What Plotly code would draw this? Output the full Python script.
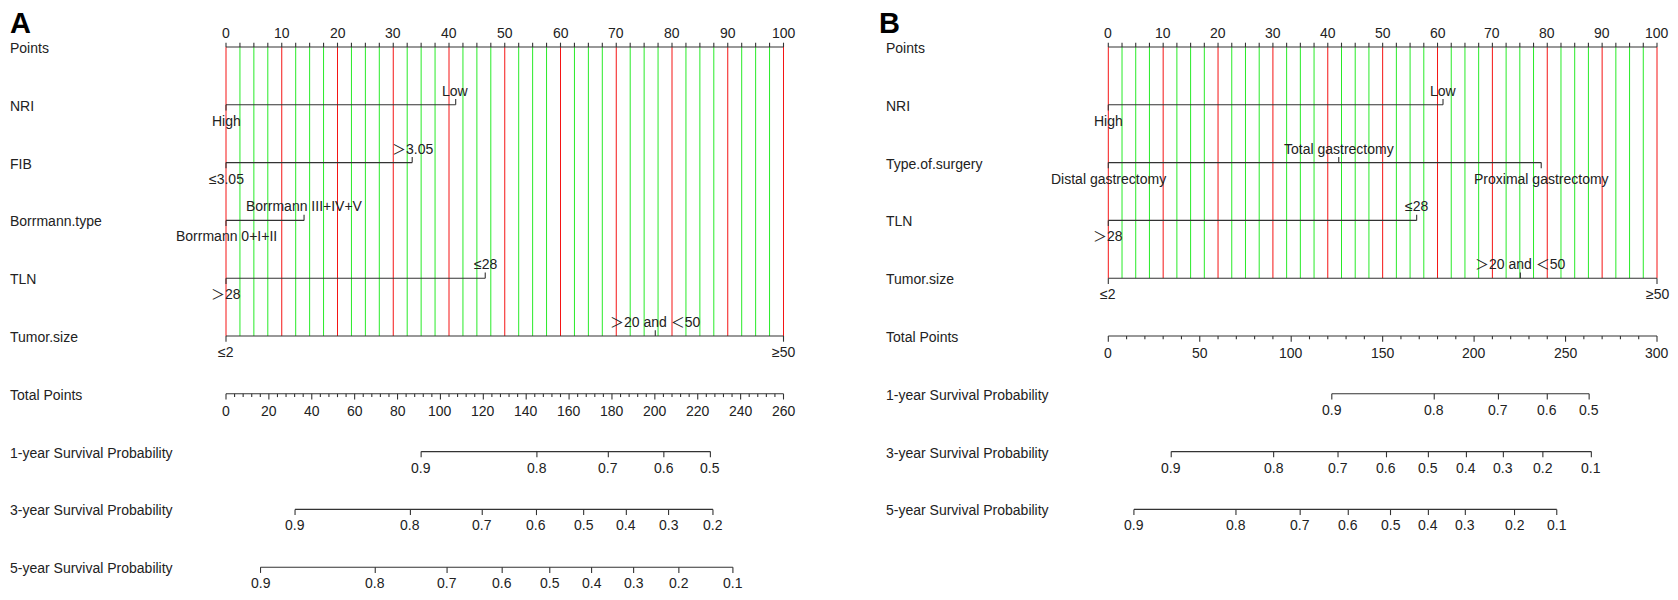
import plotly.graph_objects as go

# ---------------- panel A ----------------
a_names = ["Points", "NRI", "FIB", "Borrmann.type", "TLN", "Tumor.size",
           "Total Points", "1-year Survival Probability",
           "3-year Survival Probability", "5-year Survival Probability"]
a_nri_levels = ["High", "Low"]
a_nri_points = [0, 41.2]
a_fib_levels = ["≤3.05", "＞3.05"]
a_fib_points = [0, 33.4]
a_borr_levels = ["Borrmann 0+I+II", "Borrmann III+IV+V"]
a_borr_points = [0, 14.0]
a_tln_levels = ["＞28", "≤28"]
a_tln_points = [0, 46.5]
a_tumor_levels = ["≤2", "＞20 and ＜50", "≥50"]
a_tumor_points = [0, 77.0, 100]
a_total_max, a_total_major, a_total_minor = 260, 20, 4
a_surv1_labels = ["0.9", "0.8", "0.7", "0.6", "0.5"]
a_surv1_total = [91.0, 145.0, 178.3, 204.2, 225.9]
a_surv3_labels = ["0.9", "0.8", "0.7", "0.6", "0.5", "0.4", "0.3", "0.2"]
a_surv3_total = [32.2, 86.0, 119.5, 144.8, 166.8, 186.7, 206.4, 227.1]
a_surv5_labels = ["0.9", "0.8", "0.7", "0.6", "0.5", "0.4", "0.3", "0.2", "0.1"]
a_surv5_total = [16.1, 69.6, 103.1, 128.8, 151.0, 170.5, 190.1, 211.2, 236.4]

# ---------------- panel B ----------------
b_names = ["Points", "NRI", "Type.of.surgery", "TLN", "Tumor.size",
           "Total Points", "1-year Survival Probability",
           "3-year Survival Probability", "5-year Survival Probability"]
b_nri_levels = ["High", "Low"]
b_nri_points = [0, 61.0]
b_surgery_levels = ["Distal gastrectomy", "Total gastrectomy", "Proximal gastrectomy"]
b_surgery_points = [0, 42.0, 78.9]
b_tln_levels = ["＞28", "≤28"]
b_tln_points = [0, 56.2]
b_tumor_levels = ["≤2", "＞20 and ＜50", "≥50"]
b_tumor_points = [0, 75.1, 100]
b_total_max, b_total_major, b_total_minor = 300, 50, 10
b_surv1_labels = ["0.9", "0.8", "0.7", "0.6", "0.5"]
b_surv1_total = [122.2, 178.2, 213.3, 240.0, 262.9]
b_surv3_labels = ["0.9", "0.8", "0.7", "0.6", "0.5", "0.4", "0.3", "0.2", "0.1"]
b_surv3_total = [34.4, 90.4, 125.6, 152.1, 175.0, 195.8, 216.0, 237.6, 264.1]
b_surv5_labels = ["0.9", "0.8", "0.7", "0.6", "0.5", "0.4", "0.3", "0.2", "0.1"]
b_surv5_total = [14.0, 69.8, 104.9, 131.2, 154.3, 175.0, 195.2, 222.1, 245.2]

points_labels = [str(v) for v in range(0, 101, 10)]

# layout constants (pixels); the page body adds an 8px margin all round,
# so the figure is kept small enough to fit the window without scrollbars
OFF = 8
W, H = 1678 - 2 * OFF, 600 - 2 * OFF
ROW0, ROW_H = 47 - OFF, 57.8
TICK = 5.7 / ROW_H
PT_TICK = 4.3 / ROW_H
MINOR = 3.3 / ROW_H
FONT = dict(family="Liberation Sans, Arial, Noto Sans CJK SC", size=14, color="#222222")
AXIS_COLOR = "#333333"
RED = "rgb(245,20,20)"
GREEN = "rgb(40,235,40)"

fig = go.Figure()


def add_lines(xs, ys, color, width, xref):
    fig.add_trace(go.Scatter(x=xs, y=ys, mode="lines", xaxis=xref, yaxis="y",
                             line=dict(color=color, width=width),
                             hoverinfo="skip", showlegend=False))


def add_text(xref, x, y, text, shift, anchor="center"):
    fig.add_annotation(x=x, y=y, xref=xref, yref="y", text=text, showarrow=False,
                       xanchor=anchor, yanchor="middle", yshift=shift, font=FONT)


def panel(xref, names, factors, total_max, total_major, total_minor, surv, name_x):
    n_f = len(factors)
    # coloured guide lines every 2.5 points
    rx, ry, gx, gy = [], [], [], []
    for k in range(41):
        v = k * 2.5
        if k % 4 == 0:
            rx += [v, v, None]; ry += [0, n_f, None]
        else:
            gx += [v, v, None]; gy += [0, n_f, None]
    add_lines(gx, gy, GREEN, 1, xref)
    add_lines(rx, ry, RED, 1, xref)

    # black axes and ticks
    ax, ay = [0, 100, None], [0, 0, None]
    for k in range(41):
        v = k * 2.5
        ax += [v, v, None]; ay += [0, -PT_TICK, None]
    for i, lab in enumerate(points_labels):
        add_text(xref, i * 10, 0, lab, 14)

    for row, (levels, pts) in enumerate(factors, start=1):
        ax += [min(pts), max(pts), None]; ay += [row, row, None]
        order = sorted(range(len(pts)), key=lambda j: pts[j])
        for rank, j in enumerate(order):
            up = rank % 2 == 1
            ax += [pts[j], pts[j], None]
            ay += [row, row - TICK if up else row + TICK, None]
            add_text(xref, pts[j], row, levels[j], 14 if up else -16)

    scale = 100 / total_max
    row = n_f + 1
    ax += [0, 100, None]; ay += [row, row, None]
    for t in range(0, total_max + 1, total_minor):
        major = t % total_major == 0
        ax += [t * scale, t * scale, None]
        ay += [row, row + (TICK if major else MINOR), None]
        if major:
            add_text(xref, t * scale, row, str(t), -17)

    for r, (labels, totals) in enumerate(surv):
        row = n_f + 2 + r
        ax += [totals[0] * scale, totals[-1] * scale, None]; ay += [row, row, None]
        for lab, t in zip(labels, totals):
            ax += [t * scale, t * scale, None]; ay += [row, row + TICK, None]
            add_text(xref, t * scale, row, lab, -16)
    add_lines(ax, ay, AXIS_COLOR, 1.1, xref)

    for i, nm in enumerate(names):
        fig.add_annotation(x=name_x, y=i, xref=xref + " domain", yref="y", text=nm,
                           showarrow=False, xanchor="left", yanchor="middle", yshift=-1,
                           font=FONT)


half = W / 2

panel("x", a_names,
      [(a_nri_levels, a_nri_points), (a_fib_levels, a_fib_points),
       (a_borr_levels, a_borr_points), (a_tln_levels, a_tln_points),
       (a_tumor_levels, a_tumor_points)],
      a_total_max, a_total_major, a_total_minor,
      [(a_surv1_labels, a_surv1_total), (a_surv3_labels, a_surv3_total),
       (a_surv5_labels, a_surv5_total)], 0.0)

panel("x2", b_names,
      [(b_nri_levels, b_nri_points), (b_surgery_levels, b_surgery_points),
       (b_tln_levels, b_tln_points), (b_tumor_levels, b_tumor_points)],
      b_total_max, b_total_major, b_total_minor,
      [(b_surv1_labels, b_surv1_total), (b_surv3_labels, b_surv3_total),
       (b_surv5_labels, b_surv5_total)], (884.3 - OFF - half) / half)

for txt, px in [("A", 0), ("B", 877 - OFF)]:
    fig.add_annotation(x=px / W, y=1, xref="paper", yref="paper", text="<b>%s</b>" % txt,
                       showarrow=False, xanchor="left", yanchor="top", yshift=3,
                       font=dict(family="Liberation Sans, Arial", size=29, color="#000000"))

# pixel placement of the two panels
a_zero, a_unit = 226 - OFF, (783.5 - 226) / 100
b_zero, b_unit = 1108.3 - OFF - half, (1657 - 1108.3) / 100
hidden = dict(visible=False, showgrid=False, zeroline=False, fixedrange=True)
fig.update_layout(
    width=W, height=H,
    margin=dict(l=0, r=0, t=0, b=0),
    paper_bgcolor="white", plot_bgcolor="white",
    showlegend=False,
    xaxis=dict(domain=[0, 0.5], range=[-a_zero / a_unit, (half - a_zero) / a_unit], **hidden),
    xaxis2=dict(domain=[0.5, 1], anchor="y",
                range=[-b_zero / b_unit, (half - b_zero) / b_unit], **hidden),
    yaxis=dict(domain=[0, 1], range=[(H - ROW0) / ROW_H, -ROW0 / ROW_H], **hidden),
)

fig.write_html("out.html")
